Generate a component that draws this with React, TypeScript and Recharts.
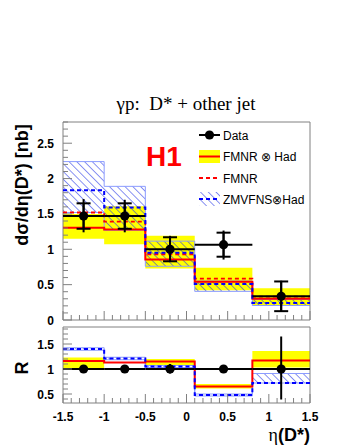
import React from "react";
import {
  ComposedChart,
  Line,
  Area,
  Scatter,
  ErrorBar,
  XAxis,
  YAxis,
  ReferenceArea,
} from "recharts";

// ---------- data ----------
const binEdges = [-1.5, -1, -0.5, 0.1, 0.8, 1.5];
const binCenters = [-1.25, -0.75, -0.2, 0.45, 1.15];
const binHalfWidths = [0.25, 0.25, 0.3, 0.35, 0.35];

// top panel: d sigma / d eta [nb]
const fmnrHad = [1.305, 1.28, 0.855, 0.54, 0.3];
const fmnrHadLo = [1.15, 1.07, 0.73, 0.42, 0.21];
const fmnrHadHi = [1.5, 1.61, 1.19, 0.74, 0.45];
const fmnr = [1.52, 1.39, 0.93, 0.585, 0.33];
const zmvfns = [1.835, 1.59, 0.95, 0.51, 0.24];
const zmvfnsLo = [1.52, 1.27, 0.76, 0.405, 0.205];
const zmvfnsHi = [2.24, 1.89, 1.115, 0.55, 0.29];
const dataVal = [1.47, 1.47, 1.0, 1.065, 0.335];
const dataStat = [0.18, 0.18, 0.17, 0.17, 0.21];
const dataTotLo = [0.23, 0.23, 0.18, 0.21, 0.215];
const dataTotHi = [0.24, 0.23, 0.19, 0.2, 0.22];

// bottom panel: ratio R
const rFmnrHad = [1.16, 1.13, 1.15, 0.65, 1.17];
const rFmnrHadLo = [1.0, 1.125, 1.08, 0.61, 1.03];
const rFmnrHadHi = [1.23, 1.135, 1.2, 0.7, 1.36];
const rZmvfns = [1.4, 1.21, 1.05, 0.48, 0.72];
const rZmvfnsLo = [1.375, 1.185, 1.03, 0.46, 0.72];
const rZmvfnsHi = [1.425, 1.235, 1.07, 0.5, 0.91];
const rData = [1, 1, 1, 1, 1];
const rDataErrLo = [0.07, 0.07, 0.09, 0.08, 0.61];
const rDataErrHi = [0.07, 0.07, 0.1, 0.08, 0.65];

// ticks
const xMajorTicks = [-1.5, -1, -0.5, 0, 0.5, 1, 1.5];
const xTickLabels = ["-1.5", "-1", "-0.5", "0", "0.5", "1", "1.5"];
const yTopMajorTicks = [0, 0.5, 1, 1.5, 2, 2.5];
const yTopTickLabels = ["0", "0.5", "1", "1.5", "2", "2.5"];
const yBotMajorTicks = [0.5, 1, 1.5];
const yBotTickLabels = ["0.5", "1", "1.5"];
const topDomain = [0, 2.8];
const botDomain = [0.32, 1.84];
const xDomain = [-1.5, 1.5];

// ---------- helpers ----------
const FONT = "'Liberation Sans', Arial, Helvetica, sans-serif";
const SERIF = "'Liberation Serif', 'Times New Roman', serif";
const FRAME = "#808080";

function minorTicks(lo: number, hi: number, step: number) {
  const out: number[] = [];
  const n = Math.round((hi - lo) / step);
  for (let i = 0; i <= n; i++) out.push(Math.round((lo + i * step) * 1000) / 1000);
  return out;
}
const xTicksAll = minorTicks(-1.5, 1.5, 0.1);
const yTopTicksAll = minorTicks(0, 2.8, 0.1);
const yBotTicksAll = minorTicks(0.4, 1.8, 0.1);

function majorIndex(list: number[], v: number) {
  return list.findIndex((m) => Math.abs(m - v) < 1e-6);
}

function stepRows(series: Record<string, number[]>) {
  return binEdges.map((e, i) => {
    const k = Math.min(i, 4);
    const row: any = { x: e };
    Object.keys(series).forEach((key) => {
      row[key] = series[key][k];
    });
    return row;
  });
}

const topRows = stepRows({
  fmnrHad,
  fmnrHadLo,
  fmnrHadHi,
  fmnr,
  zmvfns,
  zmvfnsLo,
  zmvfnsHi,
}).map((r) => ({ ...r, yellow: [r.fmnrHadLo, r.fmnrHadHi], hatch: [r.zmvfnsLo, r.zmvfnsHi] }));

const botRows = stepRows({
  rFmnrHad,
  rFmnrHadLo,
  rFmnrHadHi,
  rZmvfns,
  rZmvfnsLo,
  rZmvfnsHi,
}).map((r) => ({ ...r, yellow: [r.rFmnrHadLo, r.rFmnrHadHi], hatch: [r.rZmvfnsLo, r.rZmvfnsHi] }));

const topPoints = binCenters.map((c, i) => ({
  x: c,
  y: dataVal[i],
  xe: binHalfWidths[i],
  stat: dataStat[i],
  tot: [dataTotLo[i], dataTotHi[i]],
}));
const botPoints = binCenters.map((c, i) => ({
  x: c,
  y: rData[i],
  xe: binHalfWidths[i],
  err: [rDataErrLo[i], rDataErrHi[i]],
}));

const XTick = (props: any) => {
  const { x, y, payload, showLabel } = props;
  const idx = majorIndex(xMajorTicks, payload.value);
  const major = idx >= 0;
  return (
    <g>
      <line x1={x} x2={x} y1={y} y2={y - (major ? 9 : 5)} stroke={FRAME} strokeWidth={1} />
      {showLabel && major ? (
        <text
          x={x}
          y={y + 18}
          textAnchor="middle"
          fontFamily={FONT}
          fontWeight="bold"
          fontSize={12}
          fill="#000"
        >
          {xTickLabels[idx]}
        </text>
      ) : null}
    </g>
  );
};

const YTick = (props: any) => {
  const { x, y, payload, majors, labels } = props;
  const idx = majorIndex(majors, payload.value);
  const major = idx >= 0;
  return (
    <g>
      <line x1={x} x2={x + (major ? 9 : 5)} y1={y} y2={y} stroke={FRAME} strokeWidth={1} />
      {major ? (
        <text
          x={x - 9}
          y={y + 4.5}
          textAnchor="end"
          fontFamily={FONT}
          fontWeight="bold"
          fontSize={12}
          fill="#000"
        >
          {labels[idx]}
        </text>
      ) : null}
    </g>
  );
};

const Dot = (p: any) => <circle cx={p.cx} cy={p.cy} r={4.6} fill="#000" />;

const Hatch = ({ id }: { id: string }) => (
  <pattern id={id} width={5.5} height={5.5} patternUnits="userSpaceOnUse" patternTransform="rotate(-45)">
    <line x1={0} y1={0} x2={0} y2={5.5} stroke="#2838e8" strokeWidth={1.1} />
  </pattern>
);

export default function App() {
  return (
    <div style={{ position: "absolute", left: 0, top: 0, width: 345, height: 446, background: "#fff" }}>
      {/* top panel */}
      <div style={{ position: "absolute", left: 0, top: 0 }}>
        <ComposedChart
          width={345}
          height={330}
          data={topRows}
          margin={{ top: 122, right: 35, left: 0, bottom: 0 }}
        >
          <defs>
            <Hatch id="hatchTop" />
          </defs>
          <XAxis
            dataKey="x"
            type="number"
            domain={xDomain}
            ticks={xTicksAll}
            interval={0}
            height={10}
            axisLine={false}
            tickLine={false}
            tickSize={0}
            tickMargin={0}
            allowDataOverflow
            tick={(p: any) => <XTick {...p} showLabel={false} />}
          />
          <YAxis
            type="number"
            domain={topDomain}
            ticks={yTopTicksAll}
            interval={0}
            width={63}
            axisLine={false}
            tickLine={false}
            tickSize={0}
            tickMargin={0}
            allowDataOverflow
            tick={(p: any) => <YTick {...p} majors={yTopMajorTicks} labels={yTopTickLabels} />}
          />
          <Area
            dataKey="yellow"
            type="stepAfter"
            fill="#ffff00"
            fillOpacity={1}
            stroke="none"
            isAnimationActive={false}
            activeDot={false}
          />
          <Area
            dataKey="hatch"
            type="stepAfter"
            fill="url(#hatchTop)"
            fillOpacity={1}
            stroke="#8c9cff"
            strokeWidth={1}
            isAnimationActive={false}
            activeDot={false}
          />
          <Line
            dataKey="fmnr"
            type="stepAfter"
            stroke="#ff0000"
            strokeWidth={1.8}
            strokeDasharray="4 3"
            dot={false}
            activeDot={false}
            isAnimationActive={false}
          />
          <Line
            dataKey="fmnrHad"
            type="stepAfter"
            stroke="#ff0000"
            strokeWidth={2}
            dot={false}
            activeDot={false}
            isAnimationActive={false}
          />
          <Line
            dataKey="zmvfns"
            type="stepAfter"
            stroke="#0000ff"
            strokeWidth={2}
            strokeDasharray="4 3"
            dot={false}
            activeDot={false}
            isAnimationActive={false}
          />
          <Scatter data={topPoints} dataKey="y" isAnimationActive={false} shape={Dot}>
            <ErrorBar dataKey="xe" direction="x" width={0} stroke="#000" strokeWidth={2} />
            <ErrorBar dataKey="tot" direction="y" width={0} stroke="#000" strokeWidth={2} />
            <ErrorBar dataKey="stat" direction="y" width={7} stroke="#000" strokeWidth={2} />
          </Scatter>
          <ReferenceArea
            x1={xDomain[0]}
            x2={xDomain[1]}
            y1={topDomain[0]}
            y2={topDomain[1]}
            fill="none"
            stroke={FRAME}
            strokeWidth={1}
            ifOverflow="visible"
          />
        </ComposedChart>
      </div>

      {/* bottom panel */}
      <div style={{ position: "absolute", left: 0, top: 320 }}>
        <ComposedChart
          width={345}
          height={126}
          data={botRows}
          margin={{ top: 7, right: 35, left: 0, bottom: 0 }}
        >
          <defs>
            <Hatch id="hatchBot" />
          </defs>
          <XAxis
            dataKey="x"
            type="number"
            domain={xDomain}
            ticks={xTicksAll}
            interval={0}
            height={43}
            axisLine={false}
            tickLine={false}
            tickSize={0}
            tickMargin={0}
            allowDataOverflow
            tick={(p: any) => <XTick {...p} showLabel={true} />}
          />
          <YAxis
            type="number"
            domain={botDomain}
            ticks={yBotTicksAll}
            interval={0}
            width={63}
            axisLine={false}
            tickLine={false}
            tickSize={0}
            tickMargin={0}
            allowDataOverflow
            tick={(p: any) => <YTick {...p} majors={yBotMajorTicks} labels={yBotTickLabels} />}
          />
          <Area
            dataKey="yellow"
            type="stepAfter"
            fill="#ffff00"
            fillOpacity={1}
            stroke="none"
            isAnimationActive={false}
            activeDot={false}
          />
          <Area
            dataKey="hatch"
            type="stepAfter"
            fill="url(#hatchBot)"
            fillOpacity={1}
            stroke="#8c9cff"
            strokeWidth={1}
            isAnimationActive={false}
            activeDot={false}
          />
          <Line
            dataKey="rFmnrHad"
            type="stepAfter"
            stroke="#ff0000"
            strokeWidth={2}
            dot={false}
            activeDot={false}
            isAnimationActive={false}
          />
          <Line
            dataKey="rZmvfns"
            type="stepAfter"
            stroke="#0000ff"
            strokeWidth={2}
            strokeDasharray="4 3"
            dot={false}
            activeDot={false}
            isAnimationActive={false}
          />
          <Scatter data={botPoints} dataKey="y" isAnimationActive={false} shape={Dot}>
            <ErrorBar dataKey="xe" direction="x" width={0} stroke="#000" strokeWidth={2} />
            <ErrorBar dataKey="err" direction="y" width={0} stroke="#000" strokeWidth={2} />
          </Scatter>
          <ReferenceArea
            x1={xDomain[0]}
            x2={xDomain[1]}
            y1={botDomain[0]}
            y2={botDomain[1]}
            fill="none"
            stroke={FRAME}
            strokeWidth={1}
            ifOverflow="visible"
          />
        </ComposedChart>
      </div>

      {/* annotations */}
      <svg
        width={345}
        height={446}
        style={{ position: "absolute", left: 0, top: 0, pointerEvents: "none" }}
      >
        <defs>
          <Hatch id="hatchLeg" />
        </defs>
        <text x={186} y={110} textAnchor="middle" fontFamily={SERIF} fontSize={19} fill="#000">
          {"γp:\u00a0 D* + other jet"}
        </text>
        <text
          x={0}
          y={0}
          transform="translate(28,185) rotate(-90)"
          textAnchor="middle"
          fontFamily={FONT}
          fontWeight="bold"
          fontSize={18}
          fill="#000"
        >
          dσ/dη(D*) [nb]
        </text>
        <text
          x={0}
          y={0}
          transform="translate(28,368) rotate(-90)"
          textAnchor="middle"
          fontFamily={FONT}
          fontWeight="bold"
          fontSize={18}
          fill="#000"
        >
          R
        </text>
        <text x={310} y={441} textAnchor="end" fontSize={18} fill="#000">
          <tspan fontFamily={SERIF}>η</tspan>
          <tspan fontFamily={FONT} fontWeight="bold">(D*)</tspan>
        </text>
        <text x={146} y={166} fontFamily={FONT} fontWeight="bold" fontSize={28} fill="#ff0000">
          H1
        </text>

        {/* legend */}
        <line x1={199} x2={220} y1={135} y2={135} stroke="#000" strokeWidth={2} />
        <circle cx={209.5} cy={135} r={4.6} fill="#000" />
        <text x={223} y={139.5} fontFamily={FONT} fontSize={12} fill="#000">Data</text>

        <rect x={199} y={150} width={21} height={13} fill="#ffff00" />
        <line x1={199} x2={220} y1={156.5} y2={156.5} stroke="#ff0000" strokeWidth={2} />
        <text x={223} y={161} fontFamily={FONT} fontSize={12} fill="#000">FMNR ⊗ Had</text>

        <line x1={199} x2={220} y1={178} y2={178} stroke="#ff0000" strokeWidth={1.8} strokeDasharray="4 3" />
        <text x={223} y={182.5} fontFamily={FONT} fontSize={12} fill="#000">FMNR</text>

        <rect x={199} y={192} width={21} height={14} fill="url(#hatchLeg)" />
        <line x1={199} x2={220} y1={199} y2={199} stroke="#0000ff" strokeWidth={2} strokeDasharray="4 3" />
        <text x={223} y={203.5} fontFamily={FONT} fontSize={12} fill="#000">ZMVFNS⊗Had</text>
      </svg>
    </div>
  );
}
